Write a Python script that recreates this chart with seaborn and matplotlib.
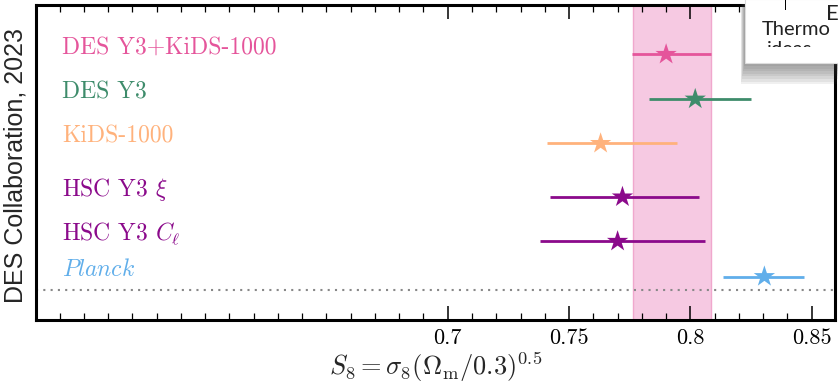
import matplotlib
matplotlib.use('Agg')
import numpy as np
import pandas as pd
import matplotlib.pyplot as plt
import seaborn as sns
from matplotlib.ticker import FixedLocator, FixedFormatter, MultipleLocator
from matplotlib.patches import Rectangle

# S8 constraints
surveys = ['DES Y3+KiDS-1000', 'DES Y3', 'KiDS-1000', r'HSC Y3 $\xi$', r'HSC Y3 $C_\ell$', r'$\mathit{Planck}$']
s8 = [0.790, 0.802, 0.763, 0.772, 0.770, 0.8305]
s8_lo = [0.776, 0.783, 0.741, 0.742, 0.738, 0.8135]
s8_hi = [0.8085, 0.825, 0.7945, 0.8035, 0.806, 0.847]
row_y = [0.844, 0.702, 0.561, 0.391, 0.250, 0.138]
colors = ['#e5559b', '#3e8c6b', '#ffb27c', '#8b0a8b', '#8b0a8b', '#60aeea']
band = (0.7763, 0.8085)
sep_y = 0.095
tick_vals = [0.7, 0.75, 0.8, 0.85]
tick_labels = ['0.7', '0.75', '0.8', '0.85']

df = pd.DataFrame({'survey': surveys, 's8': s8, 'lo': s8_lo, 'hi': s8_hi, 'y': row_y})

sns.set_theme(style='ticks')
plt.rcParams['mathtext.fontset'] = 'cm'
plt.rcParams['font.family'] = ['cmr10', 'DejaVu Serif']

W, H = 838, 383
fig = plt.figure(figsize=(W / 100, H / 100), dpi=100)
ax = fig.add_axes([36 / W, 1 - 320 / H, (835 - 36) / W, (320 - 5.3) / H])

# joint constraint band
ax.axvspan(band[0], band[1], facecolor='#f6c9e2', edgecolor='#f0a8cd', lw=1, zorder=0)

# error bars and stars
for i, r in df.iterrows():
    ax.hlines(r['y'], r['lo'], r['hi'], color=colors[i], lw=2, zorder=2)
sns.scatterplot(data=df, x='s8', y='y', hue='survey', palette=colors, marker='*',
                s=260, linewidth=0, legend=False, zorder=3, ax=ax)

# labels
for i, r in df.iterrows():
    ax.annotate(r['survey'], xy=(0.0325, r['y']), xycoords=('axes fraction', 'data'),
                xytext=(0, 0.5), textcoords='offset points', va='baseline', ha='left',
                color=colors[i], fontsize=17)

ax.axhline(sep_y, color='#888888', ls=(0, (1, 2.5)), lw=1.5, zorder=1)

ax.set_xlim(0.5303, 0.8596)
ax.set_ylim(0, 1)
ax.xaxis.set_major_locator(FixedLocator(tick_vals))
ax.xaxis.set_major_formatter(FixedFormatter(tick_labels))
ax.xaxis.set_minor_locator(MultipleLocator(0.01))
ax.set_yticks([])
ax.tick_params(axis='x', which='both', direction='in', top=True, bottom=True,
               labelsize=16, colors='black', pad=6)
ax.tick_params(axis='x', which='major', length=10, width=1.1)
ax.tick_params(axis='x', which='minor', length=5, width=0.9)
for t in ax.get_xticklabels():
    t.set_fontfamily('cmr10')
for sp in ax.spines.values():
    sp.set_linewidth(2.2)
    sp.set_color('black')
    sp.set_visible(True)

ax.set_xlabel(r'$S_8 = \sigma_8(\Omega_{\rm m}/0.3)^{0.5}$', fontsize=19, labelpad=2)
ax.set_ylabel('DES Collaboration, 2023', fontsize=18, family=['Liberation Sans', 'DejaVu Sans'])
ax.yaxis.set_label_coords(-0.011, 0.49)

# overlay box in the top right corner of the screenshot
def fx(px):
    return px / W


def fy(py):
    return 1 - py / H


for k in range(8):
    fig.add_artist(Rectangle((fx(744 - k * 0.5), fy(66 + 2.6 * k)), fx(96), (62 + 2.6 * k) / H,
                             transform=fig.transFigure, facecolor='#444444', alpha=0.08,
                             edgecolor='none', zorder=9))
box = Rectangle((fx(745), fy(63)), fx(95), 64 / H, transform=fig.transFigure,
                facecolor='white', edgecolor='#dddddd', lw=0.8, zorder=10)
fig.add_artist(box)
clip = Rectangle((fx(745), fy(47)), fx(95), 48 / H, transform=fig.transFigure,
                 facecolor='none', edgecolor='none')
fig.add_artist(clip)
fig.add_artist(Rectangle((fx(785), fy(10)), 1 / W, 10 / H, transform=fig.transFigure,
                         facecolor='black', edgecolor='none', zorder=11))
fig.text(fx(762), fy(35), 'Thermo', fontsize=14.5, family=['Lato', 'DejaVu Sans'],
         color='#222222', zorder=11, va='baseline')
t2 = fig.text(fx(767), fy(55), 'ideas', fontsize=14.5, family=['Lato', 'DejaVu Sans'],
              color='#222222', zorder=11, va='baseline')
t2.set_clip_path(clip)
fig.text(fx(826), fy(20), 'E', fontsize=16, family=['Lato', 'DejaVu Sans'],
         color='#222222', zorder=11, va='baseline')

fig.savefig('out.png', dpi=100)
